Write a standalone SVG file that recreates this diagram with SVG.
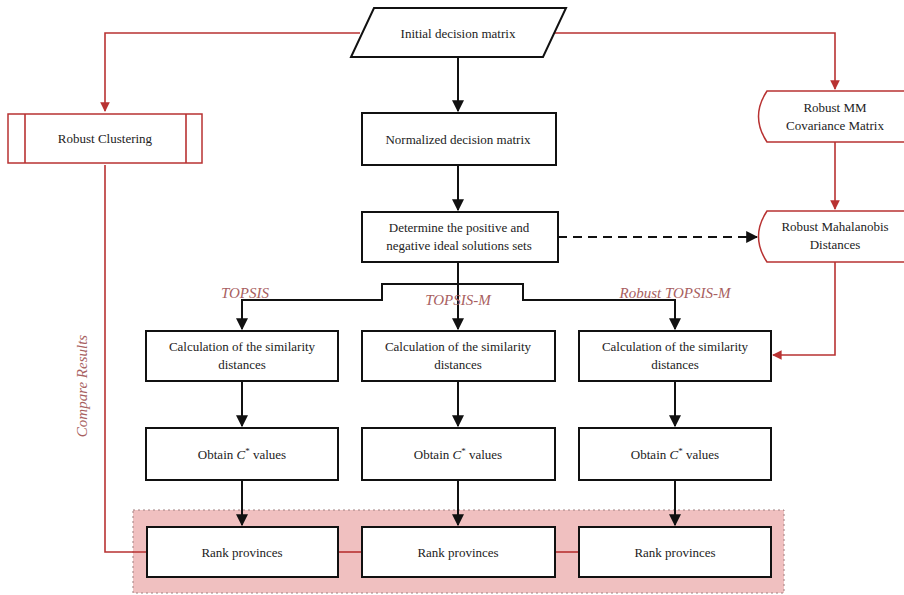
<svg xmlns="http://www.w3.org/2000/svg" width="904" height="595" viewBox="0 0 904 595">
<defs>
<marker id="ab" viewBox="0 0 10 10" refX="9" refY="5" markerWidth="6" markerHeight="6" orient="auto" markerUnits="strokeWidth"><path d="M0,0 L10,5 L0,10 Z" fill="#111"/></marker>
<marker id="ar" viewBox="0 0 10 10" refX="9" refY="5" markerWidth="6" markerHeight="6" orient="auto" markerUnits="strokeWidth"><path d="M0,0 L10,5 L0,10 Z" fill="#b83232"/></marker>
<style>
.t{font-family:"Liberation Serif","Times New Roman",serif;font-size:13px;fill:#222;text-anchor:middle}
.lab{font-family:"Liberation Serif","Times New Roman",serif;font-size:15px;font-style:italic;fill:#a86060;text-anchor:middle}
.bx{fill:#fff;stroke:#111;stroke-width:2}
.rb{fill:#fff;stroke:#b83232;stroke-width:1.5}
.bl{fill:none;stroke:#111;stroke-width:2}
.rl{fill:none;stroke:#b83232;stroke-width:1.6}
</style>
</defs>
<rect width="904" height="595" fill="#fff"/>
<g id="region">
<rect x="133" y="510" width="651" height="83" fill="#f0c0c0" stroke="#a08080" stroke-width="1" stroke-dasharray="2,3"/>
</g>
<g id="connectors">
<path class="rl" d="M360,33 H105 V111" marker-end="url(#ar)"/>
<path class="rl" d="M555,33 H835 V89" marker-end="url(#ar)"/>
<path class="rl" d="M835,142 V209" marker-end="url(#ar)"/>
<path class="rl" d="M835,262 V355 H773" marker-end="url(#ar)"/>
<path class="rl" d="M105,165 V552 H147"/>
<path class="rl" d="M338,552 H362"/>
<path class="rl" d="M555,552 H579"/>
<path class="bl" d="M458,57 V111" marker-end="url(#ab)"/>
<path class="bl" d="M458,165 V210" marker-end="url(#ab)"/>
<path class="bl" d="M558,237 H757" stroke-dasharray="9,6" marker-end="url(#ab)"/>
<path class="bl" d="M458,262 V329" marker-end="url(#ab)"/>
<path class="bl" d="M458,284 H382 V300 H242 V329" marker-end="url(#ab)"/>
<path class="bl" d="M458,284 H523 V300 H675 V329" marker-end="url(#ab)"/>
<path class="bl" d="M242,381 V426" marker-end="url(#ab)"/>
<path class="bl" d="M458,381 V426" marker-end="url(#ab)"/>
<path class="bl" d="M675,381 V426" marker-end="url(#ab)"/>
<path class="bl" d="M242,480 V525" marker-end="url(#ab)"/>
<path class="bl" d="M458,480 V525" marker-end="url(#ab)"/>
<path class="bl" d="M675,480 V525" marker-end="url(#ab)"/>
</g>
<g id="labels">
<text class="lab" x="245" y="298">TOPSIS</text>
<text class="lab" x="458" y="305">TOPSIS-M</text>
<text class="lab" x="675" y="298">Robust TOPSIS-M</text>
<text class="lab" font-size="16" transform="translate(87,386) rotate(-90)">Compare Results</text>
</g>
<g id="initial">
<polygon class="bx" points="374,8 566,8 543,57 351,57"/>
<text class="t" x="458" y="38">Initial decision matrix</text>
</g>
<g id="clustering">
<rect class="rb" x="8" y="114" width="194" height="49"/>
<path class="rl" d="M25,114 V163 M186,114 V163"/>
<text class="t" x="105" y="143">Robust Clustering</text>
</g>
<g id="normalized">
<rect class="bx" x="362" y="113" width="194" height="52"/>
<text class="t" x="458" y="144">Normalized decision matrix</text>
</g>
<g id="determine">
<rect class="bx" x="362" y="212" width="196" height="50"/>
<text class="t" x="459" y="232">Determine the positive and</text>
<text class="t" x="459" y="250">negative ideal solutions sets</text>
</g>
<g id="mm">
<path class="rb" d="M767,91 H912 V142 H767 Q750,116.5 767,91 Z"/>
<text class="t" x="835" y="112">Robust MM</text>
<text class="t" x="835" y="130">Covariance Matrix</text>
</g>
<g id="mahalanobis">
<path class="rb" d="M767,211 H912 V262 H767 Q750,236.5 767,211 Z"/>
<text class="t" x="835" y="231">Robust Mahalanobis</text>
<text class="t" x="835" y="249">Distances</text>
</g>
<g id="calc1">
<rect class="bx" x="146" y="331" width="192" height="50"/>
<text class="t" x="242" y="351">Calculation of the similarity</text>
<text class="t" x="242" y="369">distances</text>
</g>
<g id="calc2">
<rect class="bx" x="362" y="331" width="193" height="50"/>
<text class="t" x="458" y="351">Calculation of the similarity</text>
<text class="t" x="458" y="369">distances</text>
</g>
<g id="calc3">
<rect class="bx" x="579" y="331" width="192" height="50"/>
<text class="t" x="675" y="351">Calculation of the similarity</text>
<text class="t" x="675" y="369">distances</text>
</g>
<g id="obtain1">
<rect class="bx" x="146" y="428" width="192" height="52"/>
<text class="t" x="242" y="459">Obtain <tspan font-style="italic">C</tspan><tspan font-size="9" dy="-5">*</tspan><tspan dy="5"> values</tspan></text>
</g>
<g id="obtain2">
<rect class="bx" x="362" y="428" width="193" height="52"/>
<text class="t" x="458" y="459">Obtain <tspan font-style="italic">C</tspan><tspan font-size="9" dy="-5">*</tspan><tspan dy="5"> values</tspan></text>
</g>
<g id="obtain3">
<rect class="bx" x="579" y="428" width="192" height="52"/>
<text class="t" x="675" y="459">Obtain <tspan font-style="italic">C</tspan><tspan font-size="9" dy="-5">*</tspan><tspan dy="5"> values</tspan></text>
</g>
<g id="rank1">
<rect class="bx" x="147" y="527" width="191" height="50"/>
<text class="t" x="242" y="557">Rank provinces</text>
</g>
<g id="rank2">
<rect class="bx" x="362" y="527" width="193" height="50"/>
<text class="t" x="458" y="557">Rank provinces</text>
</g>
<g id="rank3">
<rect class="bx" x="579" y="527" width="192" height="50"/>
<text class="t" x="675" y="557">Rank provinces</text>
</g>
</svg>
